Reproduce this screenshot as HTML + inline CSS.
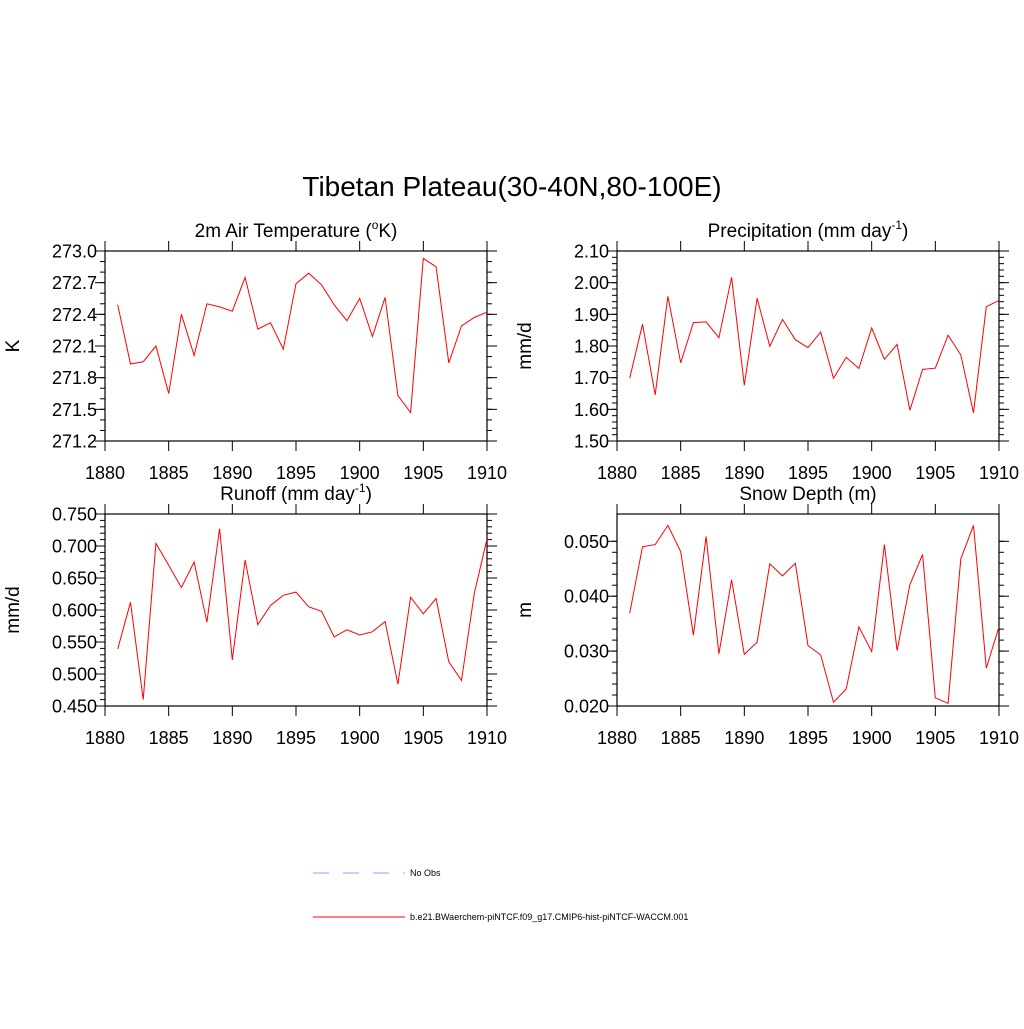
<!DOCTYPE html>
<html><head><meta charset="utf-8"><style>
body{margin:0;background:#fff}
svg text{font-family:"Liberation Sans",sans-serif;fill:#000}
</style></head><body>
<svg id="c" width="1024" height="1024" xmlns="http://www.w3.org/2000/svg">
<text x="512" y="196" font-size="28" text-anchor="middle">Tibetan Plateau(30-40N,80-100E)</text>
<g id="legend">
<line x1="313" y1="873" x2="405" y2="873" stroke="#9999ff" stroke-dasharray="16,14"/>
<text x="410" y="876" font-size="9">No Obs</text>
<line x1="313" y1="917" x2="405" y2="917" stroke="#ff0000"/>
<text x="410" y="920" font-size="9">b.e21.BWaerchem-piNTCF.f09_g17.CMIP6-hist-piNTCF-WACCM.001</text>
</g>
</svg>
<script>
const years=[1881,1882,1883,1884,1885,1886,1887,1888,1889,1890,1891,1892,1893,1894,1895,1896,1897,1898,1899,1900,1901,1902,1903,1904,1905,1906,1907,1908,1909,1910];
const xTicks=[1880,1885,1890,1895,1900,1905,1910];
const tempVals=[272.49,271.93,271.95,272.10,271.65,272.40,272.01,272.50,272.47,272.43,272.75,272.26,272.32,272.07,272.69,272.79,272.68,272.49,272.34,272.55,272.19,272.56,271.63,271.47,272.93,272.85,271.94,272.29,272.37,272.42];
const precVals=[1.698,1.869,1.646,1.957,1.747,1.874,1.876,1.826,2.017,1.676,1.951,1.799,1.884,1.82,1.795,1.844,1.698,1.764,1.729,1.857,1.758,1.805,1.597,1.726,1.73,1.834,1.772,1.589,1.924,1.944];
const runoffVals=[0.539,0.612,0.460,0.704,0.670,0.635,0.675,0.581,0.727,0.522,0.678,0.577,0.607,0.623,0.628,0.605,0.598,0.558,0.569,0.561,0.566,0.582,0.484,0.620,0.594,0.618,0.519,0.490,0.626,0.711];
const snowVals=[0.0369,0.0490,0.0494,0.0529,0.0481,0.0329,0.0509,0.0295,0.0430,0.0294,0.0316,0.0459,0.0437,0.0460,0.0310,0.0293,0.0207,0.0231,0.0344,0.0299,0.0494,0.0301,0.0421,0.0476,0.0215,0.0205,0.0468,0.0529,0.0269,0.0344];
const tempTicks=["273.0","272.7","272.4","272.1","271.8","271.5","271.2"];
const precTicks=["2.10","2.00","1.90","1.80","1.70","1.60","1.50"];
const runoffTicks=["0.750","0.700","0.650","0.600","0.550","0.500","0.450"];
const snowTicks=["0.050","0.040","0.030","0.020"];
const NS="http://www.w3.org/2000/svg";
const svg=document.getElementById('c');
function el(t,a,p){const e=document.createElementNS(NS,t);for(const k in a)e.setAttribute(k,a[k]);(p||svg).appendChild(e);return e;}
function panel(cfg){
 const {x0,x1,y0,y1,ymin,ymax,ticks,minorStep,vals,title,ylab,key,yTop,yBot}=cfg;
 const g=el('g',{});
 
 
 const sx=v=>x0+(v-1880)/30*(x1-x0);
 const sy=v=>yBot+(v-ymin)/(ymax-ymin)*(yTop-yBot);
 const box=el('rect',{x:x0,y:y0,width:x1-x0,height:y1-y0,fill:'none',stroke:'#000','stroke-width':1.2},g);
 
 
 xTicks.forEach(t=>{
  const x=sx(t);
  el('line',{x1:x,x2:x,y1:y1,y2:y1+10,stroke:'#000'},g);
  el('line',{x1:x,x2:x,y1:y0,y2:y0-10,stroke:'#000'},g);
  const tx=el('text',{x:x,y:y1+38,'font-size':18,'text-anchor':'middle'},g);
  tx.textContent=t;
  
  
 });
 const nMin=Math.round((ymax-ymin)/minorStep);
 for(let i=0;i<=nMin;i++){
  const y=sy(ymin+i*minorStep);
  el('line',{x1:x0-5,x2:x0,y1:y,y2:y,stroke:'#000'},g);
  el('line',{x1:x1,x2:x1+5,y1:y,y2:y,stroke:'#000'},g);
 }
 ticks.forEach(t=>{
  const v=parseFloat(t);const y=sy(v);
  el('line',{x1:x0-10,x2:x0,y1:y,y2:y,stroke:'#000'},g);
  el('line',{x1:x1,x2:x1+10,y1:y,y2:y,stroke:'#000'},g);
  const tx=el('text',{x:x0-8,y:y+6.5,'font-size':18,'text-anchor':'end'},g);
  tx.textContent=t;
  
  
 });
 const pts=vals.map((v,i)=>sx(years[i]).toFixed(1)+','+sy(v).toFixed(1)).join(' ');
 const pl=el('polyline',{points:pts,fill:'none',stroke:'#ff0000','stroke-width':1},g);
 
 
 const tt=el('text',{x:(x0+x1)/2,y:y0-14,'font-size':19,'text-anchor':'middle'},g);
 tt.innerHTML=title;
 
 
 const yl=el('text',{'font-size':19,'text-anchor':'middle',transform:`translate(${x0-86},${(y0+y1)/2}) rotate(-90)`},g);
 yl.textContent=ylab;
 
 
}
const sup='<tspan font-size="12" dy="-8">-1</tspan><tspan dy="8">)</tspan>';
panel({key:'temperature',x0:105,x1:487,y0:251,y1:441,yTop:251,yBot:441,ymin:271.2,ymax:273.0,ticks:tempTicks,minorStep:0.1,vals:tempVals,title:'2m Air Temperature (<tspan font-size="12" dy="-8">o</tspan><tspan dy="8">K)</tspan>',ylab:'K'});
panel({key:'precipitation',x0:617,x1:999,y0:251,y1:441,yTop:251,yBot:441,ymin:1.5,ymax:2.1,ticks:precTicks,minorStep:0.02,vals:precVals,title:'Precipitation (mm day'+sup,ylab:'mm/d'});
panel({key:'runoff',x0:105,x1:487,y0:514,y1:706,yTop:514,yBot:706,ymin:0.45,ymax:0.75,ticks:runoffTicks,minorStep:0.01,vals:runoffVals,title:'Runoff (mm day'+sup,ylab:'mm/d'});
panel({key:'snow-depth',x0:617,x1:999,y0:514,y1:706,yTop:541.3,yBot:706,ymin:0.02,ymax:0.05,ticks:snowTicks,minorStep:0.002,vals:snowVals,title:'Snow Depth (m)',ylab:'m'});
</script>
</body></html>
